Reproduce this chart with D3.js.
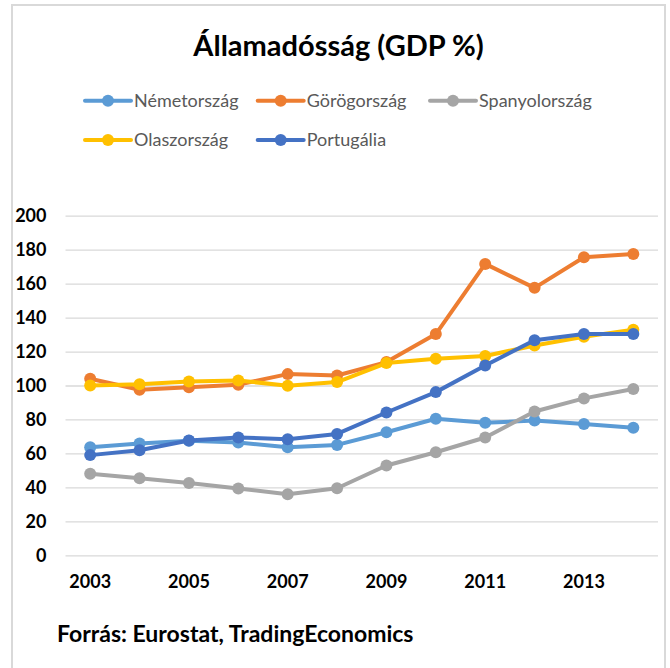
<!DOCTYPE html>
<html>
<head>
<meta charset="utf-8">
<script src="https://cdn.jsdelivr.net/npm/d3@7"></script>
<style>
	body { margin: 0; background: #fff; }
	svg { display: block; font-family: Lato, "Open Sans", sans-serif; }
</style>
</head>
<body>
<div id="chart"></div>
<script>
// years on the category axis
var years = [2003, 2004, 2005, 2006, 2007, 2008, 2009, 2010, 2011, 2012, 2013, 2014]
var labelYears = [2003, 2005, 2007, 2009, 2011, 2013]
var yTicks = [0, 20, 40, 60, 80, 100, 120, 140, 160, 180, 200]

// debt in % of GDP
var nemetorszag = [63.7, 65.8, 67.4, 66.4, 63.7, 65.0, 72.5, 80.4, 78.0, 79.4, 77.3, 75.1]
var gorogorszag = [104.0, 97.5, 98.9, 100.5, 106.7, 105.9, 113.8, 130.3, 171.6, 157.5, 175.5, 177.5]
var spanyolorszag = [48.0, 45.4, 42.6, 39.3, 36.0, 39.5, 52.9, 60.7, 69.4, 84.7, 92.4, 97.9]
var olaszorszag = [100.0, 100.8, 102.4, 103.0, 99.8, 102.0, 113.2, 115.8, 117.4, 123.6, 128.7, 132.9]
var portugalia = [59.0, 61.9, 67.6, 69.4, 68.4, 71.5, 84.1, 96.1, 111.8, 126.6, 130.3, 130.3]

var seriesNames = ["Németország", "Görögország", "Spanyolország", "Olaszország", "Portugália"]
var seriesColors = ["#5B9BD5", "#ED7D31", "#A5A5A5", "#FFC000", "#4472C4"]

var series = [nemetorszag, gorogorszag, spanyolorszag, olaszorszag, portugalia].map((values, i) => ({
	name: seriesNames[i],
	color: seriesColors[i],
	points: values.map((v, j) => ({year: years[j], value: v}))
}))

var width = 670
var height = 668
var plot = {left: 65.5, right: 658, top: 215.7, bottom: 555.3}

var svg = d3.select("#chart")
	.append("svg")
	.attr("width", width)
	.attr("height", height)

// chart frame
svg.append("rect")
	.attr("x", 12)
	.attr("y", 5)
	.attr("width", 653)
	.attr("height", 700)
	.attr("fill", "#fff")
	.attr("stroke", "#D9D9D9")
	.attr("stroke-width", 2)

svg.append("text")
	.attr("x", 338.5)
	.attr("y", 56)
	.attr("text-anchor", "middle")
	.attr("font-size", 29)
	.attr("font-weight", "bold")
	.attr("fill", "#000")
	.text("Államadósság (GDP %)")

var xScale = d3.scaleBand()
	.domain(years)
	.range([plot.left, plot.right])
	.padding(0)

var x = d => xScale(d) + xScale.bandwidth() / 2

var yScale = d3.scaleLinear()
	.domain([0, 200])
	.range([plot.bottom, plot.top])

// y axis with gridlines
var yAxis = d3.axisLeft(yScale)
	.tickValues(yTicks)
	.tickSizeInner(-(plot.right - plot.left))
	.tickSizeOuter(0)
	.tickPadding(19)

var gy = svg.append("g")
	.attr("transform", `translate(${plot.left},0)`)
	.call(yAxis)

gy.select(".domain").remove()
gy.selectAll(".tick line")
	.attr("stroke", "#D9D9D9")
	.attr("stroke-width", 1.3)
gy.selectAll(".tick text")
	.attr("font-family", "Lato, sans-serif")
	.attr("font-size", 18)
	.attr("font-weight", "bold")
	.attr("fill", "#000")

// x axis, odd years only
var xAxis = d3.axisBottom(xScale)
	.tickValues(labelYears)
	.tickSize(0)
	.tickPadding(20)

var gx = svg.append("g")
	.attr("transform", `translate(0,${plot.bottom})`)
	.call(xAxis)

gx.select(".domain").remove()
gx.selectAll(".tick text")
	.attr("font-family", "Lato, sans-serif")
	.attr("font-size", 18)
	.attr("font-weight", "bold")
	.attr("fill", "#000")

var line = d3.line()
	.x(d => x(d.year))
	.y(d => yScale(d.value))

var groups = svg.append("g")
	.selectAll("g")
	.data(series)
	.join("g")

groups.append("path")
	.attr("d", d => line(d.points))
	.attr("fill", "none")
	.attr("stroke", d => d.color)
	.attr("stroke-width", 4)
	.attr("stroke-linejoin", "round")
	.attr("stroke-linecap", "round")

groups.selectAll("circle")
	.data(d => d.points.map(p => ({...p, color: d.color})))
	.join("circle")
	.attr("cx", d => x(d.year))
	.attr("cy", d => yScale(d.value))
	.attr("r", 6)
	.attr("fill", d => d.color)

// legend, two rows
var legendPos = [[85, 100.7], [257.7, 100.7], [430, 100.7], [85, 140], [257.7, 140]]

var legend = svg.append("g")
	.selectAll("g")
	.data(series)
	.join("g")
	.attr("transform", (d, i) => `translate(${legendPos[i][0]},${legendPos[i][1]})`)

legend.append("line")
	.attr("x1", 0)
	.attr("x2", 46)
	.attr("stroke", d => d.color)
	.attr("stroke-width", 4)
	.attr("stroke-linecap", "round")

legend.append("circle")
	.attr("cx", 23)
	.attr("r", 6)
	.attr("fill", d => d.color)

legend.append("text")
	.attr("x", 49)
	.attr("dy", "0.35em")
	.attr("font-size", 18)
	.attr("fill", "#595959")
	.text(d => d.name)

svg.append("text")
	.attr("x", 57)
	.attr("y", 642)
	.attr("font-size", 23)
	.attr("font-weight", "bold")
	.attr("fill", "#000")
	.text("Forrás: Eurostat, TradingEconomics")
</script>
</body>
</html>
